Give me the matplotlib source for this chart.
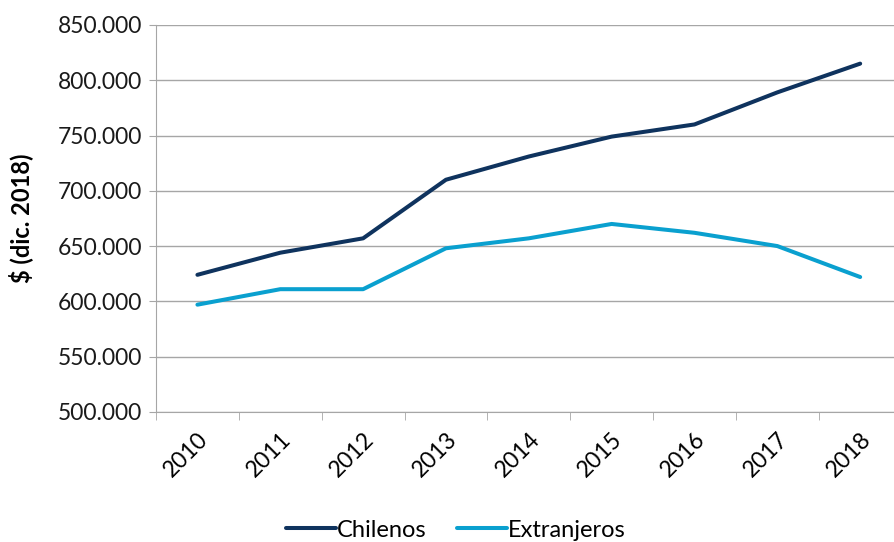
import matplotlib.pyplot as plt
import numpy as np
from matplotlib.ticker import FuncFormatter

# datos
years = ['2010', '2011', '2012', '2013', '2014', '2015', '2016', '2017', '2018']
chilenos = [624000, 644000, 657000, 710000, 731000, 749000, 760000, 789000, 815000]
extranjeros = [597000, 611000, 611000, 648000, 657000, 670000, 662000, 650000, 622000]

plt.rcParams['font.family'] = ['Lato', 'DejaVu Sans']

fig = plt.figure(figsize=(8.94, 5.42), dpi=100)
ax = fig.add_axes([0.1745, 0.24, 0.834, 0.714])

x = np.arange(len(years))
ax.plot(x, chilenos, color='#0F335E', lw=2.9, label='Chilenos', solid_capstyle='round')
ax.plot(x, extranjeros, color='#0AA0CF', lw=2.9, label='Extranjeros', solid_capstyle='round')

ax.set_xlim(-0.5, len(years) - 0.5)
ax.set_ylim(500000, 850000)
ax.set_yticks(np.arange(500000, 850001, 50000))
ax.yaxis.set_major_formatter(FuncFormatter(lambda v, p: f'{v/1000:.3f}'))
ax.grid(axis='y', color='#A6A6A6', lw=1)
ax.set_axisbelow(True)

ax.set_xticks(x)
ax.set_xticklabels(years, rotation=45, ha='right', rotation_mode='anchor', fontsize=16.5)
ax.set_xticks(np.arange(-0.5, len(years), 1), minor=True)
ax.tick_params(axis='x', which='major', length=0, pad=12)
ax.tick_params(axis='x', which='minor', length=6, color='#A6A6A6')
ax.tick_params(axis='y', length=5, color='#A6A6A6', labelsize=16.5, pad=5, labelcolor='#1a1a1a')

for s in ['top', 'right']:
    ax.spines[s].set_visible(False)
for s in ['left', 'bottom']:
    ax.spines[s].set_color('#A6A6A6')

ax.set_ylabel('$ (dic. 2018)', fontsize=17, fontweight='bold')
ax.yaxis.set_label_coords(-0.165, 0.5)

fig.legend(loc='center', bbox_to_anchor=(0.51, 0.022), ncol=2, frameon=False,
           fontsize=17, handlelength=2.1, handletextpad=0.05, columnspacing=1.3)

plt.savefig('out.png', dpi=100)
